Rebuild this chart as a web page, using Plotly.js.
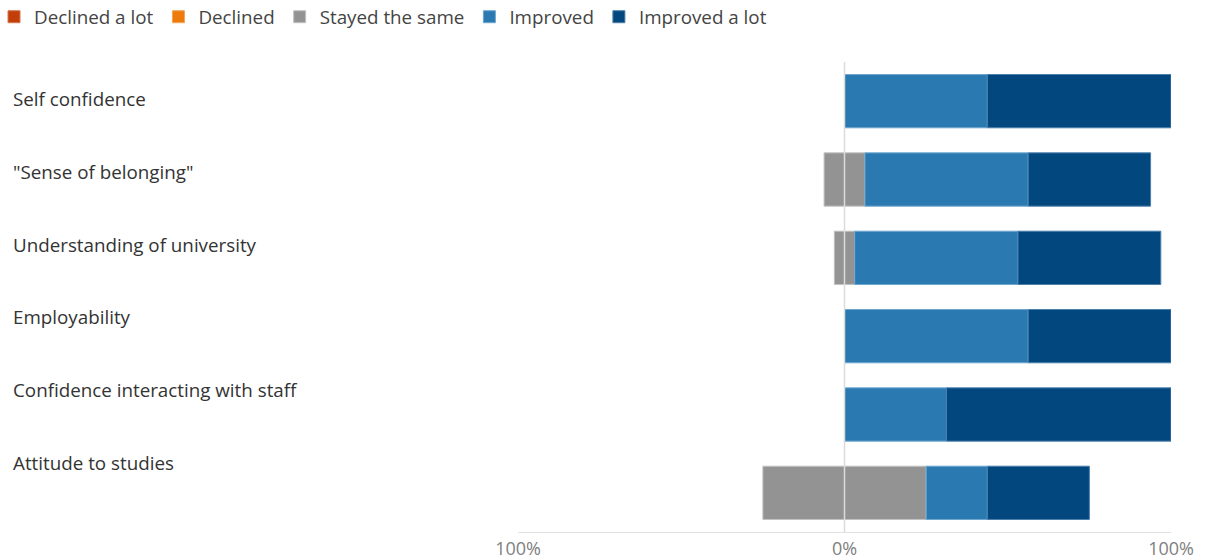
<!DOCTYPE html>
<html>
<head>
<meta charset="utf-8">
<script src="https://cdn.plot.ly/plotly-3.0.1.min.js"></script>
<style>html,body{margin:0;padding:0;background:#fff;}#chart{width:1208px;height:559px;}</style>
</head>
<body>
<div id="chart"></div>
<script>
const categories = ['Self confidence', '"Sense of belonging"', 'Understanding of university', 'Employability', 'Confidence interacting with staff', 'Attitude to studies'];
const declinedALot = [0, 0, 0, 0, 0, 0];
const declined = [0, 0, 0, 0, 0, 0];
const stayedSame = [0, 12.5, 6.25, 0, 0, 50];
const improved = [43.75, 50, 50, 56.25, 31.25, 18.75];
const improvedALot = [56.25, 37.5, 43.75, 43.75, 68.75, 31.25];
const tickValues = [-100, 0, 100];
const tickLabels = ['100%', '0%', '100%'];

const colors = {
  declinedALot: '#c23f0a',
  declined: '#ee7a0c',
  stayed: '#939393',
  improved: '#2a7ab1',
  improvedALot: '#03477f'
};
const edges = {
  declinedALot: '#d8764f',
  declined: '#f4a45a',
  stayed: '#c2c2c2',
  improved: '#6ea6cf',
  improvedALot: '#4b7fab'
};

function bar(name, x, key, opts) {
  return Object.assign({
    type: 'bar', orientation: 'h', name: name, y: categories, x: x,
    marker: {color: colors[key], line: {color: edges[key], width: 1}},
    hoverinfo: 'skip'
  }, opts || {});
}

const traces = [
  bar('Stayed the same', stayedSame.map(v => -v / 2), 'stayed', {legendrank: 3, legendgroup: 's'}),
  bar('Declined', declined.map(v => -v), 'declined', {legendrank: 2}),
  bar('Declined a lot', declinedALot.map(v => -v), 'declinedALot', {legendrank: 1}),
  bar('Stayed the same', stayedSame.map(v => v / 2), 'stayed', {showlegend: false, legendgroup: 's'}),
  bar('Improved', improved, 'improved', {legendrank: 4}),
  bar('Improved a lot', improvedALot, 'improvedALot', {legendrank: 5})
];

const W = 1208, H = 559, L = 518, R = 37, T = 62, B = 27;
const plotW = W - L - R, plotH = H - T - B;
const labelX = (11 - L) / plotW;
const FONT = 'Open Sans, sans-serif';

// category labels sit in their own evenly spaced column (top-aligned rows)
const annotations = categories.map((c, i) => ({
  xref: 'paper', yref: 'paper', x: labelX, y: 1 - ((99 + 72.8 * i) - T) / plotH,
  text: c, showarrow: false, xanchor: 'left', yanchor: 'middle',
  font: {family: FONT, size: 18.8, color: '#333'}
}));

const layout = {
  width: W, height: H,
  margin: {l: L, r: R, t: T, b: B, pad: 0, autoexpand: false},
  barmode: 'relative',
  bargap: 0.32,
  paper_bgcolor: '#fff', plot_bgcolor: '#fff',
  showlegend: true,
  legend: {
    orientation: 'h', x: (-6 - L) / plotW, xanchor: 'left',
    y: 1 + (T + 2) / plotH, yanchor: 'top',
    traceorder: 'normal', itemwidth: 30,
    font: {family: FONT, size: 18.8, color: '#444'}
  },
  xaxis: {
    range: [-100, 100], tickvals: tickValues, ticktext: tickLabels,
    showgrid: true, gridcolor: '#e2e2e2', gridwidth: 1,
    zeroline: false, showline: true, linecolor: '#e2e2e2', linewidth: 1,
    ticks: '', ticklen: 0, fixedrange: true,
    tickfont: {family: FONT, size: 18, color: '#808080'}
  },
  yaxis: {
    type: 'category', autorange: 'reversed', showticklabels: false,
    showgrid: false, zeroline: false, showline: false, ticks: '', fixedrange: true
  },
  shapes: [{
    type: 'line', xref: 'x', yref: 'paper', x0: 0, x1: 0, y0: 0, y1: 1,
    line: {color: '#dcdcdc', width: 1.5}, layer: 'above'
  }],
  annotations: annotations
};

Plotly.newPlot('chart', traces, layout, {displayModeBar: false, staticPlot: true});
</script>
</body>
</html>
